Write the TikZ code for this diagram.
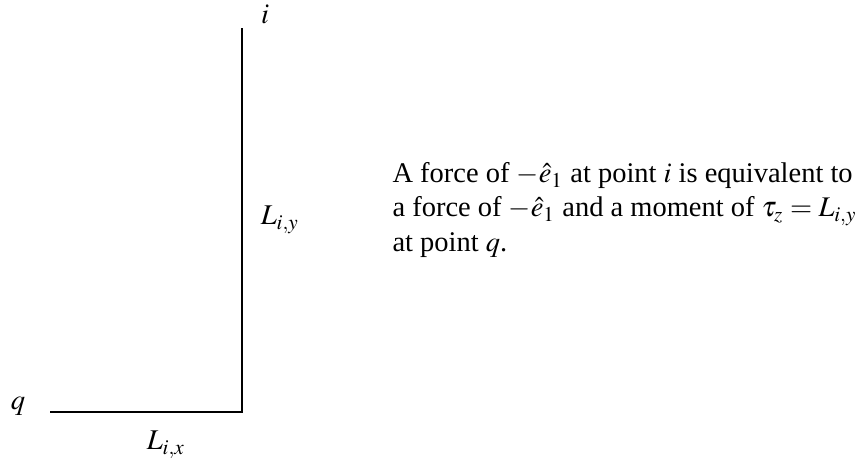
\documentclass[tikz,border=0pt]{standalone}
\usepackage{mathptmx}
\usepackage[no-math]{fontspec}
\setmainfont{Liberation Serif}
\begin{document}
\begin{tikzpicture}[x=0.3636pt,y=-0.3636pt,
  lbl/.style={inner sep=0pt, anchor=base, font=\fontsize{10.4}{12.6}\selectfont},
  desc/.style={inner sep=0pt, anchor=base west, font=\fontsize{10.35}{12.6}\selectfont},
  arm/.style={line width=0.4pt, black}]
\useasboundingbox (0,0) rectangle (857,461);
\coordinate (qend) at (50,412);
\coordinate (corner) at (242,412);
\coordinate (iend) at (242,28);
\draw[arm] (qend) -- (corner) -- (iend);
\node[lbl] (i) at (265,24) {$i$};
\node[lbl] (q) at (18,410) {$q$};
\node[lbl] (Ly) at (280,225) {$L_{i,y}$};
\node[lbl] (Lx) at (166,450) {$L_{i,x}$};
\node[desc] (t1) at (392,183) {A force of $-\hat{e}_1$ at point $i$ is equivalent to};
\node[desc] (t2) at (392,217) {a force of $-\hat{e}_1$ and a moment of $\tau_z = L_{i,y}$};
\node[desc] (t3) at (392,252) {at point $q$.};
\end{tikzpicture}
\end{document}
